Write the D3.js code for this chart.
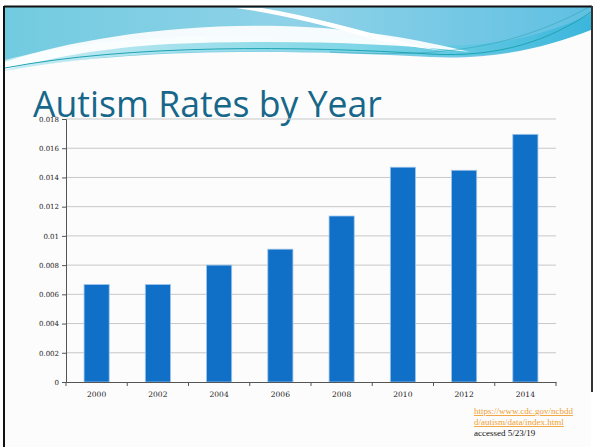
<!DOCTYPE html>
<html><head><meta charset="utf-8">
<script src="https://cdn.jsdelivr.net/npm/d3@7"></script>
<style>html,body{margin:0;padding:0;background:#fff;}svg{display:block;}</style>
</head><body>
<script>
const years = ["2000","2002","2004","2006","2008","2010","2012","2014"];
const rates = [0.00667,0.00667,0.0080,0.00909,0.01136,0.0147,0.01449,0.01695];
const yTickValues = [0,0.002,0.004,0.006,0.008,0.01,0.012,0.014,0.016,0.018];
const yTickLabels = ["0","0.002","0.004","0.006","0.008","0.01","0.012","0.014","0.016","0.018"];
const titleText = "Autism Rates by Year";
const sourceLines = ["https://www.cdc.gov/ncbdd","d/autism/data/index.html"];
const accessedText = "accessed 5/23/19";

const W=594,H=447;
const svg=d3.select("body").append("svg").attr("width",W).attr("height",H);

// slide background
svg.append("rect").attr("x",0).attr("y",0).attr("width",W).attr("height",H).attr("fill","#ffffff");
svg.append("rect").attr("x",5).attr("y",7).attr("width",586).attr("height",440).attr("fill","#fcfcfc");

// header decoration
const defs=svg.append("defs");
const g1=defs.append("linearGradient").attr("id","hdr").attr("x1","0").attr("x2","1").attr("y1","0").attr("y2","0");
g1.append("stop").attr("offset","0").attr("stop-color","#72cbe0");
g1.append("stop").attr("offset","0.5").attr("stop-color","#8fd2e8");
g1.append("stop").attr("offset","1").attr("stop-color","#5fc0e2");
const g2=defs.append("linearGradient").attr("id","band").attr("x1","0").attr("x2","1").attr("y1","0").attr("y2","0");
g2.append("stop").attr("offset","0").attr("stop-color","#c8ecf3");
g2.append("stop").attr("offset","0.6").attr("stop-color","#7fd6e6");
g2.append("stop").attr("offset","1").attr("stop-color","#3bb6dc");
const hdr=svg.append("g");
hdr.append("rect").attr("x",5).attr("y",7).attr("width",586).attr("height",70).attr("fill","url(#hdr)");
hdr.append("path").attr("d","M5,60 C120,30 300,30 420,44 C480,50 540,38 591,14 L591,30 C545,48 500,58 430,56 C300,48 130,46 5,72 Z").attr("fill","url(#band)");
hdr.append("path").attr("d","M5,62 C70,40 170,24 280,26 C360,28 420,40 470,52 C380,42 270,40 170,44 C100,48 50,58 5,70 Z").attr("fill","#ffffff").attr("opacity",0.92);
hdr.append("path").attr("d","M236,8 L262,8 C310,16 360,30 410,44 C425,48 440,50 452,52 C420,48 395,44 370,38 C320,24 280,14 236,8 Z").attr("fill","#ffffff");
hdr.append("path").attr("d","M5,71 C130,47 300,50 430,57 C500,60 550,46 591,30 L591,447 L5,447 Z").attr("fill","#fcfcfc");
hdr.append("path").attr("d","M5,68 C130,44 300,46 430,54 C500,58 550,40 591,12").attr("fill","none").attr("stroke","#1fa3b3").attr("stroke-width",1);
hdr.append("path").attr("d","M330,52 C420,56 500,56 591,6").attr("fill","none").attr("stroke","#2a9fb0").attr("stroke-width",0.7).attr("opacity",0.7);

// frame
svg.append("line").attr("x1",4).attr("x2",592).attr("y1",6.5).attr("y2",6.5).attr("stroke","#111").attr("stroke-width",2);
svg.append("line").attr("x1",4).attr("x2",4).attr("y1",6).attr("y2",447).attr("stroke","#111").attr("stroke-width",2);
svg.append("line").attr("x1",592).attr("x2",592).attr("y1",6).attr("y2",392).attr("stroke","#333").attr("stroke-width",2);

// title
const title=svg.append("text").attr("x",33).attr("y",117).attr("fill","#17678a")
  .attr("font-family","'Open Sans', sans-serif").attr("font-size",38).text(titleText);
const tw=title.node().getComputedTextLength();
title.attr("font-size",38*349/tw);

// chart
const x0=66,x1=556,yTop=119,yBot=382;
const x=d3.scaleBand().domain(years).range([x0,x1]).paddingInner(0.59).paddingOuter(0.295);
const xb=d3.scaleBand().domain(years).range([x0,x1]);
const y=d3.scaleLinear().domain([0,0.018]).range([yBot,yTop]);

svg.append("g").selectAll("line").data(yTickValues.slice(1)).join("line")
  .attr("x1",x0).attr("x2",x1).attr("y1",d=>y(d)).attr("y2",d=>y(d))
  .attr("stroke","#c8c8c8").attr("stroke-width",1);

svg.append("g").selectAll("rect").data(years).join("rect")
  .attr("x",d=>x(d)).attr("width",x.bandwidth())
  .attr("y",(d,i)=>y(rates[i])).attr("height",(d,i)=>yBot-y(rates[i]))
  .attr("fill","#106fc6").attr("stroke","#9ec4ea").attr("stroke-width",0.8);

const yAxis=d3.axisLeft(y).tickValues(yTickValues).tickFormat((d,i)=>yTickLabels[i]).tickSize(4).tickPadding(3);
const ya=svg.append("g").attr("transform",`translate(${x0},0)`).call(yAxis);
ya.select(".domain").attr("stroke","#555");
ya.selectAll(".tick line").attr("stroke","#555");
ya.selectAll("text").attr("font-family","'DejaVu Serif', serif").attr("font-size",7).attr("fill","#222");

const xAxis=d3.axisBottom(xb).tickSize(0).tickPadding(10);
const xa=svg.append("g").attr("transform",`translate(0,${yBot})`).call(xAxis);
xa.select(".domain").attr("stroke","#555");
xa.selectAll("text").attr("font-family","'DejaVu Serif', serif").attr("font-size",7.5).attr("fill","#222");
const bounds=years.map(d=>xb(d)).concat([x1]);
xa.append("g").selectAll("line").data(bounds).join("line")
  .attr("x1",d=>d).attr("x2",d=>d).attr("y1",0).attr("y2",4).attr("stroke","#555");

const src=svg.append("g").attr("font-family","'Liberation Serif', serif").attr("font-size",9);
src.selectAll("text.l").data(sourceLines).join("text").attr("class","l")
  .attr("x",474).attr("y",(d,i)=>414+i*11).attr("fill","#f0a030")
  .attr("text-decoration","underline").text(d=>d);
src.append("text").attr("x",474).attr("y",436).attr("fill","#111").text(accessedText);
</script>
</body></html>
